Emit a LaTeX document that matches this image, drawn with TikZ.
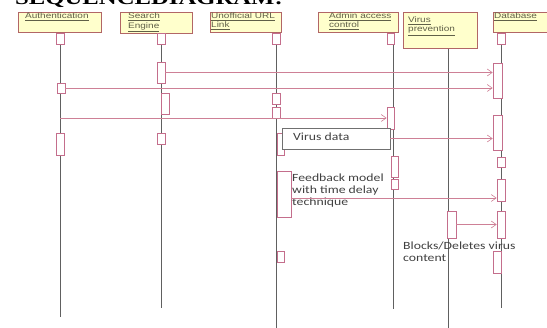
\documentclass[tikz,border=0pt]{standalone}
\usepackage{fontspec}
\setmainfont{Liberation Serif}
\newfontfamily\headfont{Liberation Sans}
\newfontfamily\notefont{Carlito}
\usetikzlibrary{arrows.meta}
\definecolor{headfill}{RGB}{255,255,204}
\definecolor{headline}{RGB}{178,102,102}
\definecolor{headtext}{RGB}{96,96,72}
\definecolor{actline}{RGB}{196,110,140}
\definecolor{msgline}{RGB}{206,128,150}
\definecolor{lifeline}{RGB}{96,96,96}
\definecolor{noteline}{RGB}{112,112,112}
\definecolor{notetext}{RGB}{64,64,64}
\newcommand\hs[1]{\scalebox{1.25}[1]{#1}}
\newcommand\hu[1]{\hs{\underline{#1}}}
\tikzset{
  head/.style={draw=headline,fill=headfill,line width=0.7pt,inner sep=0pt,anchor=north west},
  headtxt/.style={font=\headfont\fontsize{8}{9.5}\selectfont,text=headtext,align=left,anchor=north west,inner sep=0pt},
  act/.style={draw=actline,fill=white,line width=0.6pt,inner sep=0pt},
  life/.style={draw=lifeline,line width=0.5pt},
  msg/.style={draw=msgline,line width=0.6pt,-{Straight Barb[length=5pt,width=7pt]}},
  notebox/.style={draw=noteline,fill=white,line width=0.8pt,inner sep=0pt},
  notetxt/.style={font=\notefont\fontsize{11}{12.3}\selectfont,text=notetext,align=left,anchor=north west,inner sep=0pt}
}
\begin{document}
\begin{tikzpicture}[x=1pt,y=-1pt]
\useasboundingbox (0,0) rectangle (547,328);
\node[anchor=base west,font=\bfseries\fontsize{19}{20}\selectfont,inner sep=0pt] (title) at (15,5) {\scalebox{1.3}[1]{SEQUENCEDIAGRAM:}};
\node[head,minimum width=83pt,minimum height=20pt] (auhead) at (18,12) {};
\node[head,minimum width=72pt,minimum height=21pt] (sehead) at (120,12) {};
\node[head,minimum width=71pt,minimum height=20pt] (urhead) at (210,12) {};
\node[head,minimum width=80pt,minimum height=20pt] (adhead) at (318,12) {};
\node[head,minimum width=74pt,minimum height=36pt] (vphead) at (403,12) {};
\node[head,minimum width=70pt,minimum height=20pt] (dbhead) at (493,12) {};
\node[headtxt] (autxt) at (25,12.5) {\hu{Authentication}};
\node[headtxt] (setxt) at (128,13) {\hu{Search}\\\hu{Engine}};
\node[headtxt] (urtxt) at (211,12.5) {\hu{Unofficial URL}\\\hu{Link}};
\node[headtxt] (adtxt) at (329,12.5) {\hu{Admin access}\\\hu{control}};
\node[headtxt] (vptxt) at (408,16.5) {\hu{Virus}\\\hu{prevention}};
\node[headtxt] (dbtxt) at (494,12.5) {\hu{Database}};
\coordinate (auend) at (60,317);
\coordinate (seend) at (161,308);
\coordinate (urend) at (276,330);
\coordinate (adend) at (393,309);
\coordinate (vpend) at (448,330);
\coordinate (dbend) at (501,308);
\draw[life] (auend |- auhead.south) -- (auend);
\draw[life] (seend |- sehead.south) -- (seend);
\draw[life] (urend |- urhead.south) -- (urend);
\draw[life] (adend |- adhead.south) -- (adend);
\draw[life] (vpend |- vphead.south) -- (vpend);
\draw[life] (dbend |- dbhead.south) -- (dbend);
\node[act,minimum width=8pt,minimum height=11pt] (au0) at (60,38.5) {};
\node[act,minimum width=8pt,minimum height=11pt] (se0) at (161,38.5) {};
\node[act,minimum width=8pt,minimum height=11pt] (ur0) at (276,38.5) {};
\node[act,minimum width=7pt,minimum height=11pt] (ad0) at (390.5,38.5) {};
\node[act,minimum width=8pt,minimum height=11pt] (db0) at (501,38.5) {};
\node[act,minimum width=8pt,minimum height=21pt] (se1) at (161,72.5) {};
\node[act,minimum width=8pt,minimum height=10pt] (au1) at (61,88) {};
\node[act,minimum width=9pt,minimum height=35pt] (db1) at (497.5,80.5) {};
\node[act,minimum width=8pt,minimum height=21pt] (se2) at (165,103.5) {};
\node[act,minimum width=8pt,minimum height=11pt] (ur1) at (276,98.5) {};
\node[act,minimum width=8pt,minimum height=11pt] (ur2) at (276,112.5) {};
\node[act,minimum width=7pt,minimum height=22pt] (ad1) at (390.5,118) {};
\node[act,minimum width=8pt,minimum height=22pt] (au2) at (60,144) {};
\node[act,minimum width=8pt,minimum height=11pt] (se3) at (161,138.5) {};
\node[act,minimum width=7pt,minimum height=22pt] (ur3) at (280.5,144) {};
\node[act,minimum width=9pt,minimum height=35pt] (db2) at (497.5,132.5) {};
\node[act,minimum width=7pt,minimum height=21pt] (ad2) at (394.5,166.5) {};
\node[act,minimum width=7pt,minimum height=10pt] (ad3) at (394.5,184) {};
\node[act,minimum width=8pt,minimum height=10pt] (db3) at (501,162) {};
\node[act,minimum width=14pt,minimum height=46pt] (ur4) at (284,194) {};
\node[act,minimum width=8pt,minimum height=22pt] (db4) at (501,190) {};
\node[act,minimum width=9pt,minimum height=27pt] (vp1) at (451.5,224.5) {};
\node[act,minimum width=8pt,minimum height=27pt] (db5) at (501,224.5) {};
\node[act,minimum width=7pt,minimum height=11pt] (ur5) at (280.5,256.5) {};
\node[act,minimum width=8pt,minimum height=22pt] (db6) at (497,262) {};
\node[notebox,minimum width=108pt,minimum height=21pt] (vdata) at (336,138.5) {};
\node[notetxt] (vdtxt) at (293,133) {\hs{Virus data}};
\node[notetxt] (fbtxt) at (292,173.5) {\hs{Feedback model}\\\hs{with time delay}\\\hs{technique}};
\node[notetxt] (bltxt) at (403,241.5) {\hs{Blocks/Deletes virus}\\\hs{content}};
\draw[msg] (se1.east) -- (se1.east -| db1.west);
\draw[msg] (au1.east) -- (au1.east -| db1.west);
\draw[msg] (au0 |- ad1.west) -- (ad1.west);
\draw[msg] (vdata.east) -- (vdata.east -| db2.west);
\draw[msg] ([yshift=-4pt]ur4.east) -- ([yshift=-4pt]ur4.east -| db4.west);
\draw[msg] (vp1.east) -- (vp1.east -| db5.west);
\end{tikzpicture}
\end{document}
